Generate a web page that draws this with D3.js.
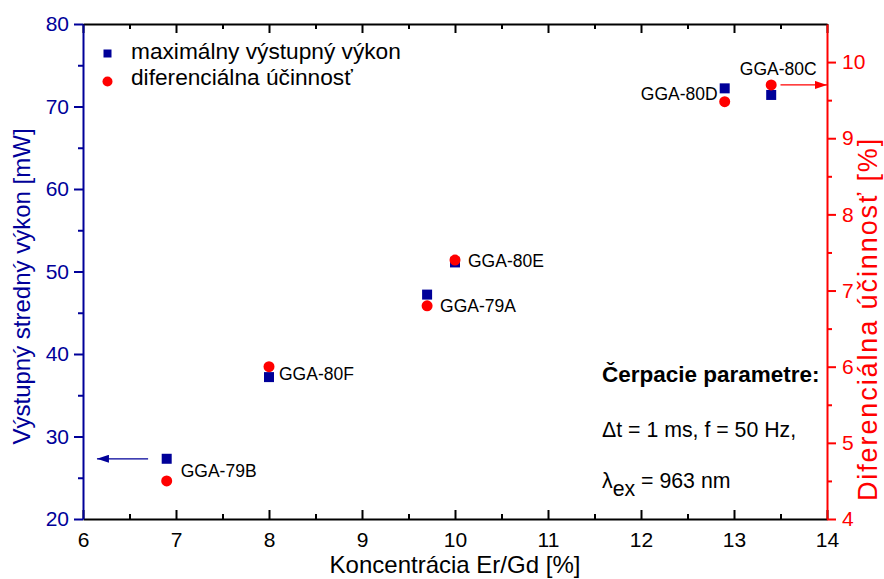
<!DOCTYPE html>
<html>
<head>
<meta charset="utf-8">
<script src="https://cdn.jsdelivr.net/npm/d3@7/dist/d3.min.js"></script>
<style>
  html, body { margin: 0; padding: 0; background: #fff; }
  svg { display: block; font-family: "Liberation Sans", Arial, sans-serif; }
</style>
</head>
<body>
<svg id="chart" width="884" height="579"></svg>
<script>
// Samples and measured values
const samples = ["GGA-79B", "GGA-80F", "GGA-79A", "GGA-80E", "GGA-80D", "GGA-80C"];
const concentration = [6.9, 8.0, 9.7, 10.0, 12.9, 13.4];         // Er/Gd [%]
const outputPower = [27.3, 37.2, 47.2, 51.1, 72.2, 71.4];         // mW
const slopeEfficiency = [4.5, 6.0, 6.8, 7.4, 9.48, 9.7];          // %

// Axis ticks
const xTicks = [6, 7, 8, 9, 10, 11, 12, 13, 14];
const xMinorTicks = [6.5, 7.5, 8.5, 9.5, 10.5, 11.5, 12.5, 13.5];
const leftTicks = [20, 30, 40, 50, 60, 70, 80];
const leftMinorTicks = [25, 35, 45, 55, 65, 75];
const rightTicks = [4, 5, 6, 7, 8, 9, 10];
const rightMinorTicks = [4.5, 5.5, 6.5, 7.5, 8.5, 9.5];

// Label placement next to each sample pair (pixels)
const labelLayout = [
  { anchor: "start",  dx: 14, dy: 7 },
  { anchor: "start",  dx: 10, dy: 8 },
  { anchor: "start",  dx: 13, dy: 12 },
  { anchor: "start",  dx: 13, dy: 6 },
  { anchor: "end",    dx: -7, dy: 5 },
  { anchor: "middle", dx: 7,  dy: -15 }
];

const BLUE = "#000099";
const RED = "#ff0000";

const svg = d3.select("#chart");
const margin = { left: 83, right: 57, top: 24, bottom: 60 };
const W = 884, H = 579;

const x = d3.scaleLinear().domain([6, 14]).range([margin.left, W - margin.right]);
const yL = d3.scaleLinear().domain([20, 80]).range([H - margin.bottom, margin.top]);
const yR = d3.scaleLinear().domain([4, 10.5]).range([H - margin.bottom, margin.top]);

const x0 = x.range()[0], x1 = x.range()[1];
const yb = yL.range()[0], yt = yL.range()[1];

function styleAxis(g, color, fontSize) {
  g.select(".domain").attr("stroke", color).attr("stroke-width", 2);
  g.selectAll(".tick line").attr("stroke", color).attr("stroke-width", 2);
  g.selectAll(".tick text").attr("fill", color).style("font-size", fontSize + "px")
    .style("font-family", "'Liberation Sans', Arial, sans-serif");
}

// Bottom axis (ticks pointing inward)
const gB = svg.append("g").attr("transform", `translate(0,${yb})`)
  .call(d3.axisBottom(x).tickValues(xTicks).tickFormat(d3.format("d"))
    .tickSizeInner(-9).tickSizeOuter(0).tickPadding(13));
styleAxis(gB, "#000", 21);
const gBm = svg.append("g").attr("transform", `translate(0,${yb})`)
  .call(d3.axisBottom(x).tickValues(xMinorTicks).tickFormat("").tickSizeInner(-5).tickSizeOuter(0));
styleAxis(gBm, "#000", 21);
gBm.select(".domain").remove();

// Top axis (inward ticks, no labels)
const gT = svg.append("g").attr("transform", `translate(0,${yt})`)
  .call(d3.axisTop(x).tickValues(xTicks).tickFormat("").tickSizeInner(-9).tickSizeOuter(0));
styleAxis(gT, "#000", 21);
const gTm = svg.append("g").attr("transform", `translate(0,${yt})`)
  .call(d3.axisTop(x).tickValues(xMinorTicks).tickFormat("").tickSizeInner(-5).tickSizeOuter(0));
styleAxis(gTm, "#000", 21);
gTm.select(".domain").remove();

// Left axis: output power
const gL = svg.append("g").attr("transform", `translate(${x0},0)`)
  .call(d3.axisLeft(yL).tickValues(leftTicks).tickFormat(d3.format("d"))
    .tickSizeInner(9).tickSizeOuter(0).tickPadding(5));
styleAxis(gL, BLUE, 21);
const gLm = svg.append("g").attr("transform", `translate(${x0},0)`)
  .call(d3.axisLeft(yL).tickValues(leftMinorTicks).tickFormat("").tickSizeInner(5).tickSizeOuter(0));
styleAxis(gLm, BLUE, 21);
gLm.select(".domain").remove();

// Right axis: slope efficiency
const gR = svg.append("g").attr("transform", `translate(${x1},0)`)
  .call(d3.axisRight(yR).tickValues(rightTicks).tickFormat(d3.format("d"))
    .tickSizeInner(9).tickSizeOuter(0).tickPadding(6));
styleAxis(gR, RED, 21);
const gRm = svg.append("g").attr("transform", `translate(${x1},0)`)
  .call(d3.axisRight(yR).tickValues(rightMinorTicks).tickFormat("").tickSizeInner(5).tickSizeOuter(0));
styleAxis(gRm, RED, 21);
gRm.select(".domain").remove();

// Axis titles
svg.append("text")
  .attr("x", (x0 + x1) / 2).attr("y", 573)
  .attr("text-anchor", "middle").style("font-size", "24px").attr("fill", "#000")
  .text("Koncentrácia Er/Gd [%]");

svg.append("text")
  .attr("transform", `translate(30,${(128 + 445) / 2}) rotate(-90)`)
  .attr("text-anchor", "middle").style("font-size", "24px").attr("fill", BLUE)
  .text("Výstupný stredný výkon [mW]");

svg.append("text")
  .attr("transform", `translate(877,${(134 + 504) / 2}) rotate(-90)`)
  .attr("text-anchor", "middle").style("font-size", "27px").style("letter-spacing", "1.9px")
  .attr("fill", RED)
  .text("Diferenciálna účinnosť [%]");

// Arrows pointing to the axis each series belongs to
const defs = svg.append("defs");
[["headBlue", BLUE], ["headRed", RED]].forEach(([id, c]) => {
  defs.append("marker").attr("id", id)
    .attr("viewBox", "0 0 12 8").attr("refX", 12).attr("refY", 4)
    .attr("markerWidth", 12).attr("markerHeight", 8)
    .attr("markerUnits", "userSpaceOnUse").attr("orient", "auto")
    .append("path").attr("d", "M0,0 L12,4 L0,8 Z").attr("fill", c);
});
svg.append("line")
  .attr("x1", x(6.7)).attr("x2", x(6.15))
  .attr("y1", yL(outputPower[0])).attr("y2", yL(outputPower[0]))
  .attr("stroke", BLUE).attr("stroke-width", 1.3).attr("marker-end", "url(#headBlue)");
svg.append("line")
  .attr("x1", x(13.5)).attr("x2", x(14))
  .attr("y1", yR(slopeEfficiency[5])).attr("y2", yR(slopeEfficiency[5]))
  .attr("stroke", RED).attr("stroke-width", 1.3).attr("marker-end", "url(#headRed)");

// Data marks
const rows = samples.map((s, i) => ({ s, c: concentration[i], p: outputPower[i], e: slopeEfficiency[i], lay: labelLayout[i] }));
const sq = 10;
svg.append("g").selectAll("rect").data(rows).join("rect")
  .attr("x", d => x(d.c) - sq / 2).attr("y", d => yL(d.p) - sq / 2)
  .attr("width", sq).attr("height", sq).attr("fill", BLUE);
svg.append("g").selectAll("circle").data(rows).join("circle")
  .attr("cx", d => x(d.c)).attr("cy", d => yR(d.e)).attr("r", 5.5).attr("fill", RED);

// Sample labels
svg.append("g").selectAll("text").data(rows).join("text")
  .attr("x", d => x(d.c) + d.lay.dx)
  .attr("y", d => (yL(d.p) + yR(d.e)) / 2 + d.lay.dy)
  .attr("text-anchor", d => d.lay.anchor)
  .style("font-size", "17.5px").attr("fill", "#000")
  .text(d => d.s);

// Legend
const legend = svg.append("g");
legend.append("rect").attr("x", 103.5).attr("y", 49.5).attr("width", 8).attr("height", 8).attr("fill", BLUE);
legend.append("circle").attr("cx", 107.5).attr("cy", 81.5).attr("r", 5).attr("fill", RED);
legend.append("text").attr("x", 131).attr("y", 59).style("font-size", "22.7px").attr("fill", "#000")
  .text("maximálny výstupný výkon");
legend.append("text").attr("x", 131).attr("y", 85).style("font-size", "22.7px").attr("fill", "#000")
  .text("diferenciálna účinnosť");

// Pump parameters note
const note = svg.append("g").style("font-size", "21.3px").attr("fill", "#000");
note.append("text").attr("x", 602).attr("y", 382).style("font-weight", "bold").style("font-size", "22.5px")
  .text("Čerpacie parametre:");
note.append("text").attr("x", 602).attr("y", 437)
  .text("Δt = 1 ms, f = 50 Hz,");
const lam = note.append("text").attr("x", 602).attr("y", 488);
lam.append("tspan").text("λ");
lam.append("tspan").attr("dy", 8).text("ex");
lam.append("tspan").attr("dy", -8).text(" = 963 nm");
</script>
</body>
</html>
